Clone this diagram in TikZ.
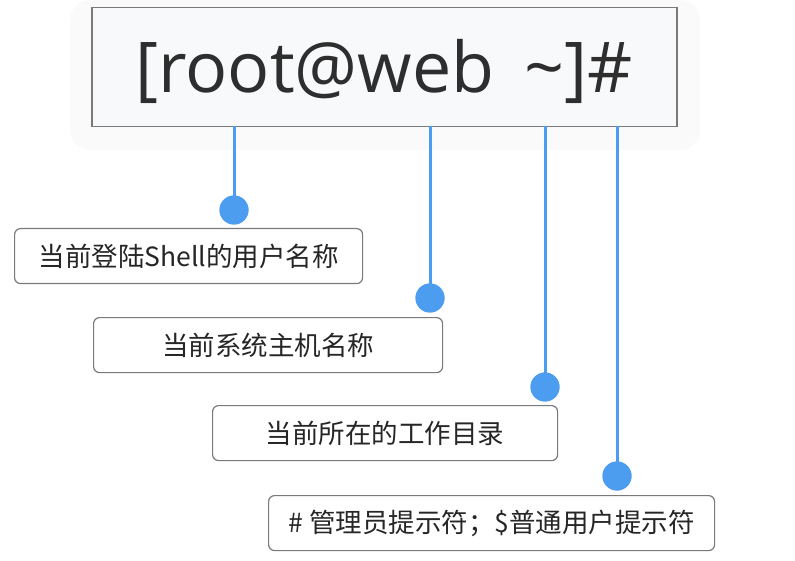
\documentclass[tikz,border=0pt]{standalone}
\usepackage{fontspec}
\setmainfont{Noto Sans CJK SC}
\newfontfamily\topfont{Open Sans}
\definecolor{lineblue}{HTML}{4C9CF0}
\definecolor{boxgray}{HTML}{7A7A7A}
\definecolor{topfill}{HTML}{F8F9FB}
\definecolor{halo}{HTML}{FAFAFB}
\begin{document}
\begin{tikzpicture}[x=1pt,y=-1pt,
  label box/.style={draw=boxgray, line width=1.2pt, rounded corners=6pt, fill=white, anchor=north west, inner sep=0pt, text=black!85, font=\fontsize{26.5}{30}\selectfont},
  dot/.style={circle, fill=lineblue, minimum size=29pt, inner sep=0pt},
  conn/.style={draw=lineblue, line width=3pt}]
\useasboundingbox (0,0) rectangle (795,561);
\fill[halo, rounded corners=20pt] (70,0) rectangle (700,150);
\node[draw=boxgray, line width=1.5pt, fill=topfill, anchor=north west, minimum width=585pt, minimum height=119pt, inner sep=0pt, text=black!82] (top) at (91,7) {};
\node[font=\topfont\fontsize{70}{80}\selectfont, text=black!82, inner sep=0pt] (toptext) at ([yshift=-4pt]top.center) {[root@web\hspace{12pt} \char`\~]\#};
\coordinate (c1) at (234,126);
\coordinate (c2) at (430,126);
\coordinate (c3) at (545,126);
\coordinate (c4) at (617,126);
\node[dot] (d1) at (234,210) {};
\node[dot] (d2) at (430,298) {};
\node[dot] (d3) at (545,387) {};
\node[dot] (d4) at (617,476) {};
\draw[conn] (c1) -- (d1.center);
\draw[conn] (c2) -- (d2.center);
\draw[conn] (c3) -- (d3.center);
\draw[conn] (c4) -- (d4.center);
\node[dot] at (d1) {};
\node[dot] at (d2) {};
\node[dot] at (d3) {};
\node[dot] at (d4) {};
\node[label box, minimum width=348pt, minimum height=55pt] (b1) at (14,228) {当前登陆Shell的用户名称};
\node[label box, minimum width=349pt, minimum height=55pt] (b2) at (93,317) {当前系统主机名称};
\node[label box, minimum width=345pt, minimum height=55pt] (b3) at (212,405) {当前所在的工作目录};
\node[label box, minimum width=446pt, minimum height=55pt] (b4) at (268,495) {\# 管理员提示符；\$普通用户提示符};
\end{tikzpicture}
\end{document}
